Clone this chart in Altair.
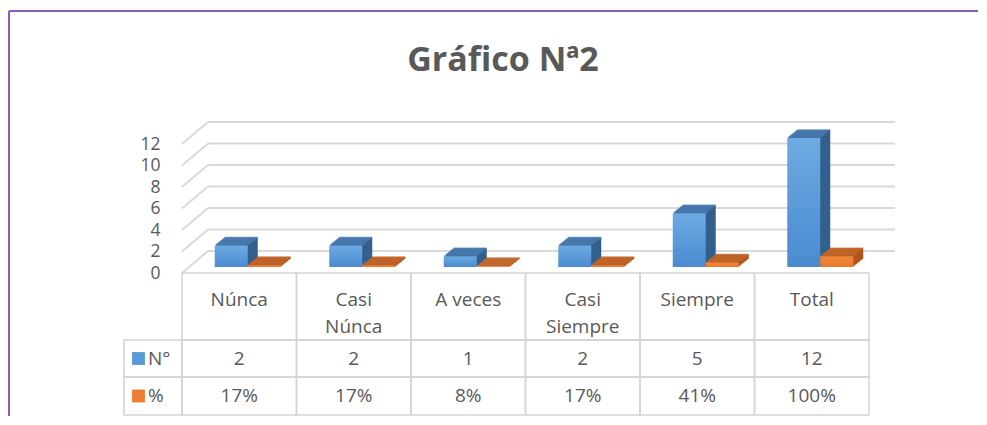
import altair as alt
import pandas as pd

# ---------------- data ----------------
categories = ["Núnca", "Casi Núnca", "A veces", "Casi Siempre", "Siempre", "Total"]
header_labels = ["Núnca", "Casi\nNúnca", "A veces", "Casi\nSiempre", "Siempre", "Total"]
counts = [2, 2, 1, 2, 5, 12]
percents = [0.17, 0.17, 0.08, 0.17, 0.41, 1.00]
series_names = ["N°", "%"]
y_ticks = [0, 2, 4, 6, 8, 10, 12]
title_text = "Gráfico Nª2"

# ---------------- style ----------------
W, H = 687, 129
FONT = "Open Sans"
TEXT = "#595959"
GRID = "#d9d9d9"
BORDER = "#d4d4d4"
PURPLE = "#8a5bc2"
BLUE = "#5b9bd5"
ORANGE = "#ed7d31"

df = pd.DataFrame({"cat": categories, "header": header_labels,
                   "n": counts, "pct": percents})
grid_df = pd.DataFrame({"v": y_ticks})
one = alt.Chart(pd.DataFrame({"k": [0]}))
base = alt.Chart(df)

xs = alt.X("cat:N", sort=categories,
           scale=alt.Scale(domain=categories, paddingInner=0, paddingOuter=0),
           axis=None)
yscale = alt.Scale(domain=[0, 12], nice=False, zero=True)
yaxis = alt.Axis(values=y_ticks, grid=False, ticks=False, domain=False,
                 labelFontSize=17.5, labelFont=FONT, labelColor=TEXT,
                 labelPadding=22, title=None)


def Y(field):
    return alt.Y(f"{field}:Q", scale=yscale, axis=yaxis)


def grad(c1, c2):
    return alt.LinearGradient(gradient="linear", x1=0, x2=0, y1=0, y2=1,
                              stops=[alt.GradientStop(offset=0, color=c1),
                                     alt.GradientStop(offset=1, color=c2)])


layers = []

# frame (top and left edge of the Excel chart area)
layers.append(one.mark_rule(color=PURPLE, strokeWidth=2).encode(
    x=alt.value(-173), x2=alt.value(796), y=alt.value(-133)))
layers.append(one.mark_rule(color=PURPLE, strokeWidth=2).encode(
    x=alt.value(-173), y=alt.value(-133), y2=alt.value(272)))

# title
layers.append(one.mark_text(text=title_text, font=FONT, fontSize=34,
                            fontWeight="bold", color=TEXT, align="center",
                            baseline="alphabetic").encode(
    x=alt.value(321), y=alt.value(-73)))

# 3D gridlines: back wall + left wall diagonals
layers.append(alt.Chart(grid_df).mark_rule(color=GRID, strokeWidth=2, yOffset=-22).encode(
    x=alt.value(26), x2=alt.value(W + 26), y=Y("v")))
layers.append(alt.Chart(grid_df).mark_rule(color=GRID, strokeWidth=2, y2Offset=-22).encode(
    x=alt.value(0), x2=alt.value(26), y=Y("v"), y2=alt.Y2("v:Q")))


def bar3d(field, xo, front, side, top):
    out = []
    D = 10
    for k in range(D, 0, -1):
        dx = 1.0 * k
        dy = -0.8 * k
        out.append(base.mark_bar(width=33, color=side, xOffset=xo + dx,
                                 yOffset=-6 + dy, y2Offset=-6 + dy).encode(
            x=xs, y=Y(field)))
        out.append(base.mark_tick(color=top, size=33, thickness=1.6,
                                  xOffset=xo + dx, yOffset=-6 + dy).encode(
            x=xs, y=Y(field)))
    out.append(base.mark_bar(width=33, color=front, xOffset=xo,
                             yOffset=-6, y2Offset=-6).encode(x=xs, y=Y(field)))
    return out


layers += bar3d("n", -8, grad("#6eaae2", "#4a8bd0"), "#335f8c", "#4a7cb2")
layers += bar3d("pct", 25, grad("#f3863a", "#e8772b"), "#b0561d", "#c2662c")

# data table: header row
layers.append(base.mark_rect(fillOpacity=0, stroke=BORDER, strokeWidth=1.5).encode(
    x=xs, y=alt.value(129), y2=alt.value(196)))
layers.append(base.mark_text(font=FONT, fontSize=19, color=TEXT, lineBreak="\n",
                             align="center", baseline="alphabetic", lineHeight=27).encode(
    x=xs, y=alt.value(162), text="header:N"))

# row N°
layers.append(base.mark_rect(fillOpacity=0, stroke=BORDER, strokeWidth=1.5).encode(
    x=xs, y=alt.value(196), y2=alt.value(233)))
layers.append(base.mark_text(font=FONT, fontSize=19, color=TEXT, align="center",
                             baseline="middle").encode(
    x=xs, y=alt.value(214.5), text=alt.Text("n:Q", format="d")))

# row %
layers.append(base.mark_rect(fillOpacity=0, stroke=BORDER, strokeWidth=1.5).encode(
    x=xs, y=alt.value(233), y2=alt.value(271)))
layers.append(base.mark_text(font=FONT, fontSize=19, color=TEXT, align="center",
                             baseline="middle").encode(
    x=xs, y=alt.value(252), text=alt.Text("pct:Q", format=".0%")))

# legend-key column of the table
for (y0, y1, col, name) in [(196, 233, BLUE, series_names[0]),
                            (233, 271, ORANGE, series_names[1])]:
    layers.append(one.mark_rect(fillOpacity=0, stroke=BORDER, strokeWidth=1.5).encode(
        x=alt.value(-58), x2=alt.value(0), y=alt.value(y0), y2=alt.value(y1)))
    layers.append(one.mark_square(size=165, color=col, filled=True, opacity=1).encode(
        x=alt.value(-43.5), y=alt.value((y0 + y1) / 2)))
    layers.append(one.mark_text(text=name, font=FONT, fontSize=19, color=TEXT,
                                align="left", baseline="middle").encode(
        x=alt.value(-34), y=alt.value((y0 + y1) / 2)))

chart = alt.layer(*layers).properties(
    width=W, height=H,
    padding={"left": 0, "top": 2, "right": 0, "bottom": 0},
    background="white",
).configure_view(stroke=None)

chart.save("out.html", embed_options={"renderer": "svg", "actions": False})
